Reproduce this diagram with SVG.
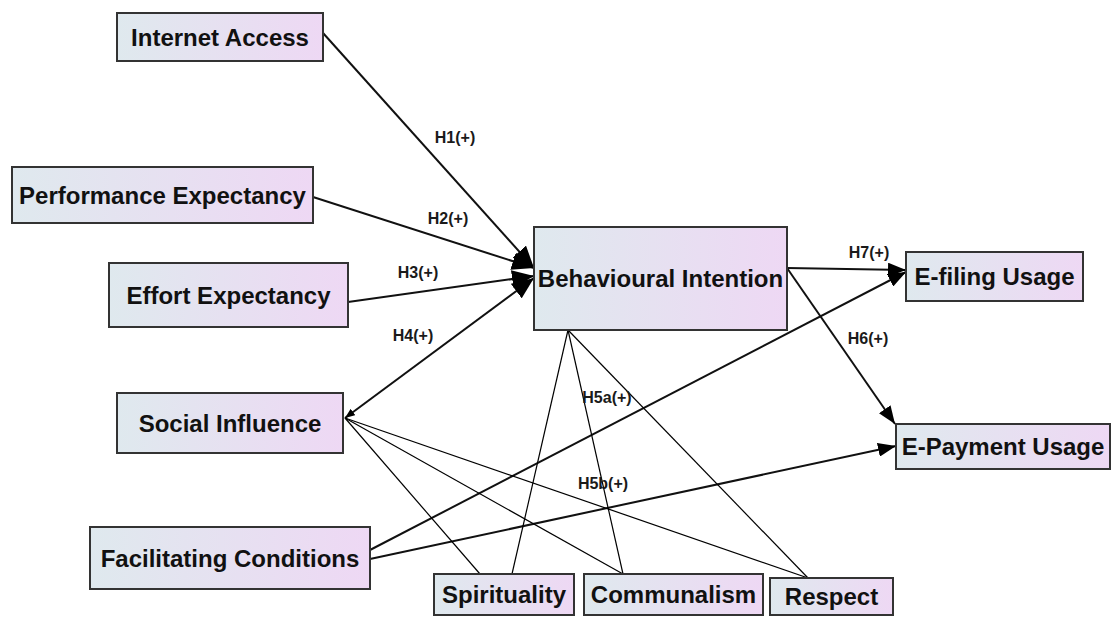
<svg xmlns="http://www.w3.org/2000/svg" width="1113" height="617" viewBox="0 0 1113 617">
  <defs>
    <linearGradient id="boxFill" x1="0" y1="0" x2="1" y2="0">
      <stop offset="0" stop-color="#dfe9ee"/>
      <stop offset="1" stop-color="#eed8f4"/>
    </linearGradient>
    <marker id="bigHead" markerUnits="userSpaceOnUse" markerWidth="24" markerHeight="18" refX="22" refY="9" orient="auto">
      <path d="M0,0 L22,9 L0,18 Z" fill="#000"/>
    </marker>
    <marker id="head" markerUnits="userSpaceOnUse" markerWidth="20" markerHeight="14" refX="18" refY="7" orient="auto">
      <path d="M0,0 L18,7 L0,14 Z" fill="#000"/>
    </marker>
    <marker id="smallHead" markerUnits="userSpaceOnUse" markerWidth="10" markerHeight="8" refX="0" refY="4" orient="auto">
      <path d="M10,0 L0,4 L10,8 Z" fill="#000"/>
    </marker>
  </defs>
  <style>
    .box { fill: url(#boxFill); stroke: #333; stroke-width: 2; }
    .lbl { font-family: "Liberation Sans", Arial, sans-serif; font-weight: bold; font-size: 24px; fill: #111; text-anchor: middle; }
    .hyp { font-family: "Liberation Sans", Arial, sans-serif; font-weight: bold; font-size: 16px; fill: #1a1a1a; text-anchor: middle; }
    .path { stroke: #111; stroke-width: 2; fill: none; }
    .mod { stroke: #000; stroke-width: 1.2; fill: none; }
  </style>

  <!-- connectors -->
  <g id="connectors">
    <line class="path" x1="323" y1="33" x2="534" y2="268" marker-end="url(#bigHead)"/>
    <line class="path" x1="313" y1="197" x2="534" y2="268" marker-end="url(#bigHead)"/>
    <line class="path" x1="348" y1="302" x2="534" y2="276" marker-end="url(#bigHead)"/>
    <line class="path" x1="345" y1="418" x2="534" y2="278" marker-end="url(#bigHead)" marker-start="url(#smallHead)"/>
    <line class="path" x1="787" y1="268" x2="906" y2="270" marker-end="url(#head)"/>
    <line class="path" x1="787" y1="268" x2="895" y2="424" marker-end="url(#head)"/>
    <line class="path" x1="370" y1="550" x2="906" y2="272" marker-end="url(#head)"/>
    <line class="path" x1="370" y1="559" x2="896" y2="446" marker-end="url(#head)"/>

    <!-- moderator links -->
    <line class="mod" x1="568" y1="330" x2="512" y2="574"/>
    <line class="mod" x1="568" y1="330" x2="623" y2="574"/>
    <line class="mod" x1="568" y1="330" x2="808" y2="578"/>
    <line class="mod" x1="345" y1="418" x2="480" y2="574"/>
    <line class="mod" x1="345" y1="418" x2="623" y2="574"/>
    <line class="mod" x1="345" y1="418" x2="808" y2="578"/>

    <text class="hyp" x="455" y="143">H1(+)</text>
    <text class="hyp" x="448" y="224">H2(+)</text>
    <text class="hyp" x="418" y="278">H3(+)</text>
    <text class="hyp" x="413" y="341">H4(+)</text>
    <text class="hyp" x="607" y="403">H5a(+)</text>
    <text class="hyp" x="603" y="489">H5b(+)</text>
    <text class="hyp" x="869" y="258">H7(+)</text>
    <text class="hyp" x="868" y="344">H6(+)</text>
  </g>

  <g id="internet-access">
    <rect class="box" x="117" y="13" width="206" height="48"/>
    <text class="lbl" x="220" y="45.5">Internet Access</text>
  </g>
  <g id="performance-expectancy">
    <rect class="box" x="12" y="167" width="301" height="56"/>
    <text class="lbl" x="162.5" y="203.5">Performance Expectancy</text>
  </g>
  <g id="effort-expectancy">
    <rect class="box" x="109" y="263" width="239" height="64"/>
    <text class="lbl" x="228.5" y="303.5">Effort Expectancy</text>
  </g>
  <g id="social-influence">
    <rect class="box" x="117" y="393" width="226" height="60"/>
    <text class="lbl" x="230" y="431.5">Social Influence</text>
  </g>
  <g id="facilitating-conditions">
    <rect class="box" x="90" y="527" width="280" height="62"/>
    <text class="lbl" x="230" y="566.5">Facilitating Conditions</text>
  </g>
  <g id="behavioural-intention">
    <rect class="box" x="534" y="227" width="253" height="103"/>
    <text class="lbl" x="660.5" y="287">Behavioural Intention</text>
  </g>
  <g id="e-filing-usage">
    <rect class="box" x="906" y="252" width="177" height="49"/>
    <text class="lbl" x="994.5" y="285">E-filing Usage</text>
  </g>
  <g id="e-payment-usage">
    <rect class="box" x="896" y="424" width="214" height="45"/>
    <text class="lbl" x="1003" y="455">E-Payment Usage</text>
  </g>
  <g id="spirituality">
    <rect class="box" x="434" y="574" width="140" height="41"/>
    <text class="lbl" x="504" y="603">Spirituality</text>
  </g>
  <g id="communalism">
    <rect class="box" x="584" y="574" width="179" height="41"/>
    <text class="lbl" x="673.5" y="603">Communalism</text>
  </g>
  <g id="respect">
    <rect class="box" x="770" y="578" width="123" height="37"/>
    <text class="lbl" x="831.5" y="605">Respect</text>
  </g>
</svg>
